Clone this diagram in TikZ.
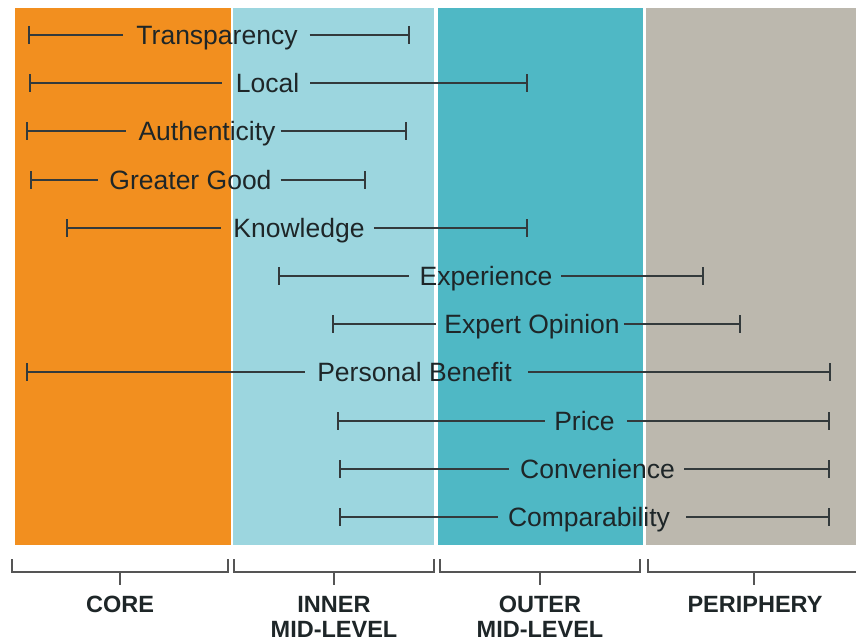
\documentclass[tikz,border=0pt]{standalone}
\usepackage{fontspec}
\setmainfont{Liberation Sans}
\definecolor{coreorange}{HTML}{F28F1F}
\definecolor{innercyan}{HTML}{9CD6DF}
\definecolor{outerteal}{HTML}{4FB8C5}
\definecolor{periphgray}{HTML}{BCB8AE}
\definecolor{barink}{HTML}{333A3C}
\definecolor{labelink}{HTML}{1E2628}
\definecolor{bracketink}{HTML}{555555}

% one attribute range: name, y, start x, end x, label centre x, label, left gap, right gap
\newcommand\rangebar[8]{%
  \node[attr] (#1) at (#5,#2) {#6};
  \coordinate (#1s) at (#3,#2);
  \coordinate (#1e) at (#4,#2);
  \draw[bar] (#1s) -- ([xshift=-#7]#1.west);
  \draw[bar] ([xshift=#8]#1.east) -- (#1e);
  \draw[bar] ([yshift=9pt]#1s) -- ([yshift=-9pt]#1s);
  \draw[bar] ([yshift=9pt]#1e) -- ([yshift=-9pt]#1e);
}

% one zone bracket: name, left x, right x, centre x
\newcommand\zonebracket[4]{%
  \coordinate (#1l) at (#2,559);
  \coordinate (#1r) at (#3,559);
  \coordinate (#1c) at (#4,572);
  \draw[brk] (#1l) -- (#2,572) -- (#3,572) -- (#1r);
  \draw[brk] (#1c) -- ++(0,13);
}

\begin{document}
\begin{tikzpicture}[x=1pt,y=-1pt,
  attr/.style={inner sep=0pt, text height=19pt, text depth=0pt, anchor=center,
    text=labelink, font=\fontsize{26.5}{30}\selectfont},
  bar/.style={draw=barink, line width=1.8pt},
  brk/.style={draw=bracketink, line width=1.8pt},
  zone/.style={inner sep=0pt, anchor=north, align=center, text=labelink,
    font=\bfseries\fontsize{23.5}{25}\selectfont}]

\useasboundingbox (0,0) rectangle (856,642);
\fill[white] (0,0) rectangle (856,642);

% zone bands
\fill[coreorange] (15,8) rectangle (231,545);
\fill[innercyan] (233,8) rectangle (434,545);
\fill[outerteal] (438,8) rectangle (643,545);
\fill[periphgray] (646,8) rectangle (856,545);

% attribute ranges
\rangebar{transp}{35}{29}{409}{217}{Transparency}{13pt}{12pt}
\rangebar{local}{83}{30}{527}{267.5}{Local}{14pt}{11pt}
\rangebar{authen}{131}{27}{406}{207}{Authenticity}{12pt}{5pt}
\rangebar{greater}{180}{31}{365}{190.5}{Greater Good}{11pt}{9pt}
\rangebar{know}{228}{67}{527}{299}{Knowledge}{12pt}{9pt}
\rangebar{exper}{276}{279}{703}{486}{Experience}{11pt}{9pt}
\rangebar{expert}{324}{333}{740}{532}{Expert Opinion}{8pt}{4pt}
\rangebar{personal}{372}{27}{830}{414.5}{Personal Benefit}{12pt}{16pt}
\rangebar{price}{421}{338}{829}{584.5}{Price}{9pt}{12pt}
\rangebar{conv}{469}{340}{829}{597.5}{Convenience}{11pt}{9pt}
\rangebar{compar}{517}{340}{829}{589}{Comparability}{10pt}{16pt}

% zone brackets and names
\zonebracket{bcore}{12}{228}{120}
\zonebracket{binner}{234}{434}{334}
\zonebracket{bouter}{440}{640}{540}
\coordinate (bperl) at (648,559);
\coordinate (bperc) at (754,572);
\draw[brk] (bperl) -- (648,572) -- (856,572);
\draw[brk] (bperc) -- ++(0,13);

\node[zone] (core) at (120,596) {CORE};
\node[zone] (inner) at (334,596) {INNER\\MID-LEVEL};
\node[zone] (outer) at (540,596) {OUTER\\MID-LEVEL};
\node[zone] (periph) at (755,596) {PERIPHERY};
\end{tikzpicture}
\end{document}
